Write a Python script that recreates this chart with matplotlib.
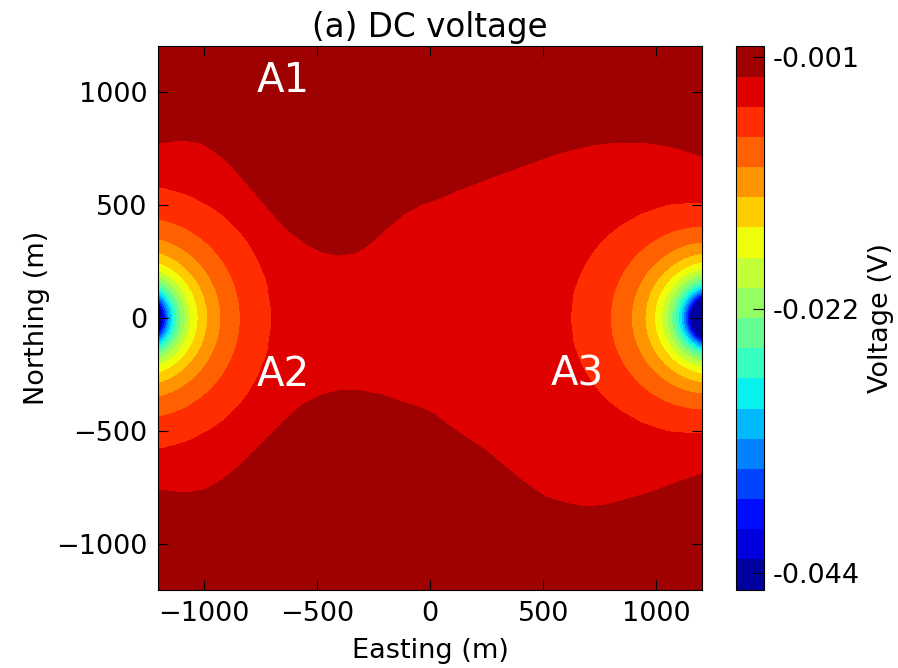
import numpy as np
import matplotlib
matplotlib.use('Agg')
import matplotlib.pyplot as plt
from matplotlib.ticker import FormatStrFormatter

# colour scale (V)
vmin, vmax = -0.0454, -0.00015
n_bands = 18
cbar_ticks = [-0.001, -0.022, -0.044]

# outline of the red (second) band (m)
top_x = [-1200, -1096, -1008, -919, -849, -773, -698, -628, -552, -477, -407, -331,
         -274, -186, -110, -35, 22, 124, 274, 420, 566, 716, 831, 981, 1096, 1200]
top_y = [773, 787, 773, 712, 641, 552, 464, 389, 331, 292, 278, 287,
         323, 402, 464, 505, 522, 566, 623, 676, 729, 765, 778, 773, 751, 715]
bot_x = [-1200, -1083, -995, -919, -849, -773, -698, -628, -552, -477, -389, -301,
         -212, -124, -35, 20, 66, 155, 243, 332, 420, 508, 597, 685, 773, 862,
         981, 1096, 1200]
bot_y = [-760, -774, -760, -716, -659, -583, -508, -438, -376, -340, -318, -323,
         -340, -371, -400, -425, -464, -526, -583, -659, -729, -791, -818, -835, -827, -804,
         -769, -725, -690]

# electrodes just outside the left / right edges
src_x = [-1285, 1255]
src_amp = [4.69, 5.03]
src_off = [0.002812, 0.00475]
src_grad = [0.0, 3.17e-6]

# annotations
labels = ['A1', 'A2', 'A3']
label_x = [-650, -650, 650]
label_y = [1000, -300, -300]

levels = np.linspace(vmin, vmax, n_bands + 1)
x = np.linspace(-1200, 1200, 601)
X, Y = np.meshgrid(x, x)

top = np.interp(x, top_x, top_y)
bot = np.interp(x, bot_x, bot_y)
yc = (top + bot) / 2
hw = (top - bot) / 2
u = np.abs(Y - yc[None, :]) / hw[None, :]
fields = [levels[-2] + 0.0015 * (u - 1)]

for xs, a, c, g in zip(src_x, src_amp, src_off, src_grad):
    r = np.hypot(X - xs, Y)
    v = c - a / r + g * np.maximum(-np.abs(X - xs), -900)
    fields.append(np.where(v < levels[-3], v, np.inf))

V = np.minimum.reduce(fields)
V = np.clip(V, vmin + 1e-6, vmax - 1e-6)

fs = 19.5
fig = plt.figure(figsize=(8.98, 6.68), dpi=100)
ax = fig.add_axes([0.1765, 0.1175, 0.6047, 0.8129])
cs = ax.contourf(X, Y, V, levels=levels, cmap='jet')
ax.set_xlim(-1200, 1200)
ax.set_ylim(-1200, 1200)
ax.set_xticks([-1000, -500, 0, 500, 1000])
ax.set_yticks([-1000, -500, 0, 500, 1000])
ax.tick_params(direction='in', top=True, right=True, length=7, labelsize=fs, pad=8)
ax.set_xlabel('Easting (m)', fontsize=fs, labelpad=8)
ax.set_ylabel('Northing (m)', fontsize=fs, labelpad=4)
ax.set_title('(a) DC voltage', fontsize=23.5, pad=7)

for t, tx, ty in zip(labels, label_x, label_y):
    ax.text(tx, ty, t, color='white', fontsize=29, ha='center', va='baseline')

cax = fig.add_axes([736 / 898, 0.1175, 28 / 898, 0.8129])
cb = fig.colorbar(cs, cax=cax, ticks=cbar_ticks, format=FormatStrFormatter('%.3f'))
cb.ax.tick_params(direction='in', length=8, labelsize=fs, pad=6)
cb.set_label('Voltage (V)', fontsize=fs, labelpad=6)

fig.savefig('out.png', dpi=100)
